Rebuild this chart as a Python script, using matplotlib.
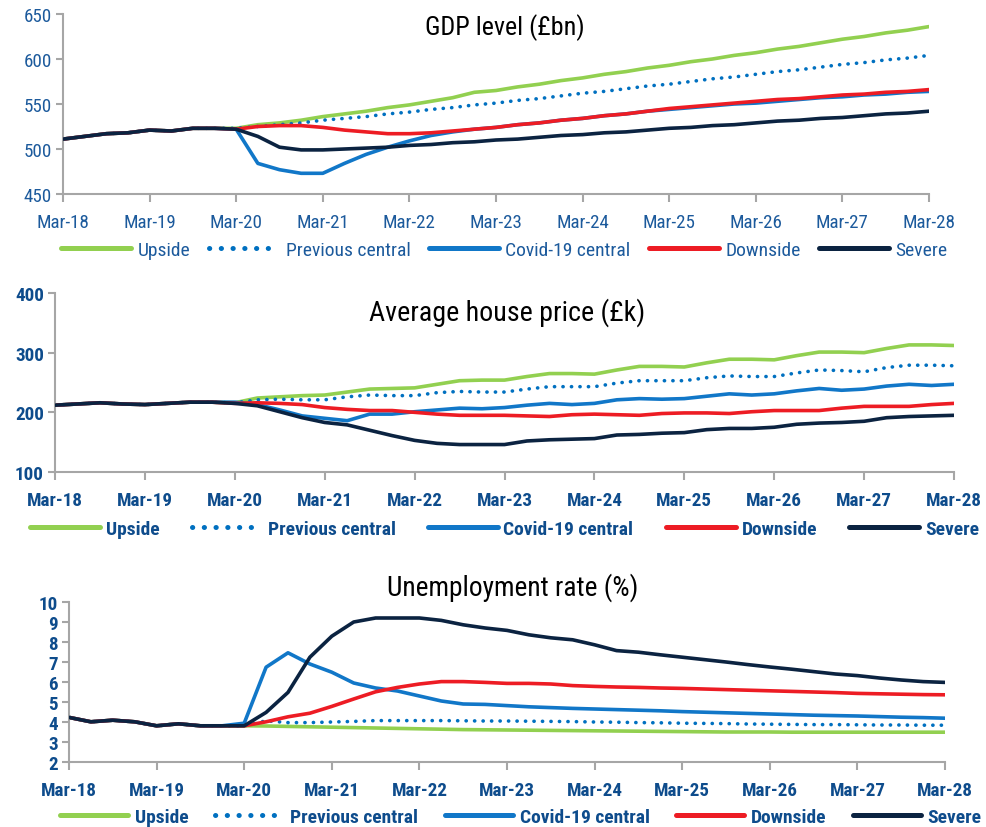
import numpy as np
import matplotlib
matplotlib.use("Agg")
import matplotlib.pyplot as plt
from matplotlib import font_manager as fm

# Prefer a narrow sans face for the labels when one is installed
_available = {f.name for f in fm.fontManager.ttflist}
_narrow = [n for n in ["Liberation Sans Narrow", "DejaVu Sans Condensed",
                       "Roboto Condensed", "Open Sans Condensed",
                       "Noto Sans Condensed", "Arial Narrow"] if n in _available]
_condensed_dejavu = any(f.name == "DejaVu Sans" and "ondensed" in f.fname
                        for f in fm.fontManager.ttflist)
if _narrow:
    plt.rcParams['font.family'] = [_narrow[0], 'DejaVu Sans']
    size_scale = 1.0
elif _condensed_dejavu:
    plt.rcParams['font.family'] = ['DejaVu Sans']
    plt.rcParams['font.stretch'] = 'condensed'
    size_scale = 0.85
else:
    plt.rcParams['font.family'] = ['Liberation Sans', 'DejaVu Sans']
    size_scale = 0.89

# Quarterly timeline, Mar-18 .. Mar-28
quarters = np.arange(41)
year_labels = ["Mar-18", "Mar-19", "Mar-20", "Mar-21", "Mar-22", "Mar-23",
               "Mar-24", "Mar-25", "Mar-26", "Mar-27", "Mar-28"]
series_names = ["Upside", "Previous central", "Covid-19 central", "Downside", "Severe"]

# GDP level (£bn): outturn Mar-18..Dec-19, then scenarios from Mar-20
gdp_hist = [511, 514, 517, 518, 521, 520, 523, 523]
gdp_upside = [523, 527, 529, 532, 536, 539, 542, 546, 549, 553, 557, 563, 565,
              569, 572, 576, 579, 583, 586, 590, 593, 597, 600, 604, 607, 611,
              614, 618, 622, 625, 629, 632, 636]
gdp_prev = [523, 525, 527, 529, 532, 534, 536, 539, 541, 544, 546, 549, 551,
            554, 556, 559, 562, 564, 567, 570, 572, 575, 578, 580, 583, 586,
            588, 591, 594, 596, 599, 601, 604]
gdp_covid = [522, 484, 477, 473, 473, 484, 494, 502, 509, 515, 519, 522, 524,
             527, 529, 532, 534, 537, 539, 542, 544, 546, 548, 550, 551, 553,
             555, 557, 558, 560, 561, 563, 564]
gdp_down = [522, 525, 526, 526, 524, 521, 519, 517, 517, 518, 520, 522, 524,
            527, 529, 532, 534, 537, 539, 542, 545, 547, 549, 551, 553, 555,
            556, 558, 560, 561, 563, 564, 566]
gdp_severe = [522, 514, 502, 499, 499, 500, 501, 502, 504, 505, 507, 508, 510,
              511, 513, 515, 516, 518, 519, 521, 523, 524, 526, 527, 529, 531,
              532, 534, 535, 537, 539, 540, 542]

# Average house price (£k)
hpi_hist = [212, 214, 216, 214, 213, 215, 217, 217]
hpi_upside = [216, 224, 226, 228, 229, 234, 239, 240, 241, 247, 253, 254, 254,
              260, 265, 265, 264, 271, 277, 277, 276, 283, 289, 289, 288, 295,
              301, 301, 300, 307, 313, 313, 312]
hpi_prev = [216, 221, 222, 221, 221, 226, 229, 228, 228, 233, 235, 234, 234,
            239, 243, 243, 243, 249, 253, 253, 253, 258, 261, 260, 260, 266,
            271, 270, 268, 275, 279, 279, 278]
hpi_covid = [217, 213, 204, 194, 190, 186, 197, 197, 201, 204, 207, 206, 208,
             212, 215, 213, 215, 221, 223, 222, 223, 227, 231, 229, 231, 236,
             240, 237, 239, 244, 247, 245, 247]
hpi_down = [215, 216, 215, 213, 208, 205, 203, 203, 200, 197, 195, 195, 195,
            194, 193, 196, 197, 196, 195, 198, 199, 199, 198, 201, 203, 203,
            203, 207, 210, 210, 210, 213, 215]
hpi_severe = [215, 211, 201, 191, 183, 179, 170, 161, 153, 148, 146, 146, 146,
              152, 154, 155, 156, 162, 163, 165, 166, 171, 173, 173, 175, 180,
              182, 183, 185, 191, 193, 194, 195]

# Unemployment rate (%)
unemp_hist = [4.23, 4.01, 4.09, 4.01, 3.81, 3.91, 3.81, 3.81]
unemp_upside = [3.81, 3.80, 3.78, 3.76, 3.74, 3.72, 3.70, 3.68, 3.66, 3.64, 3.62,
                3.61, 3.60, 3.59, 3.58, 3.57, 3.56, 3.55, 3.54, 3.53, 3.52, 3.51,
                3.50, 3.50, 3.50, 3.49, 3.49, 3.49, 3.49, 3.49, 3.49, 3.49, 3.49]
unemp_prev = [3.81, 4.06, 3.97, 3.97, 4.00, 4.03, 4.07, 4.07, 4.07, 4.07, 4.06,
              4.05, 4.05, 4.04, 4.03, 4.02, 4.00, 3.99, 3.97, 3.96, 3.94, 3.93,
              3.92, 3.90, 3.89, 3.88, 3.87, 3.87, 3.86, 3.85, 3.85, 3.84, 3.84]
unemp_covid = [3.94, 6.74, 7.46, 6.90, 6.49, 5.95, 5.70, 5.55, 5.30, 5.05, 4.90,
               4.88, 4.82, 4.76, 4.72, 4.68, 4.65, 4.62, 4.59, 4.56, 4.52, 4.49,
               4.46, 4.43, 4.40, 4.37, 4.34, 4.32, 4.30, 4.27, 4.24, 4.22, 4.19]
unemp_down = [3.81, 4.01, 4.26, 4.44, 4.78, 5.15, 5.51, 5.73, 5.90, 6.02, 6.02,
              5.98, 5.93, 5.93, 5.90, 5.82, 5.78, 5.75, 5.73, 5.70, 5.68, 5.65,
              5.62, 5.59, 5.56, 5.53, 5.50, 5.47, 5.43, 5.41, 5.39, 5.37, 5.36]
unemp_severe = [3.81, 4.48, 5.48, 7.24, 8.29, 9.00, 9.20, 9.20, 9.20, 9.08, 8.86,
                8.70, 8.58, 8.36, 8.21, 8.11, 7.86, 7.57, 7.49, 7.36, 7.24, 7.12,
                7.00, 6.87, 6.75, 6.64, 6.52, 6.40, 6.32, 6.20, 6.10, 6.02, 5.98]

colors = ["#92D050", "#0070C0", "#1177C8", "#ED1C24", "#0B2341"]
spine_color = "#A6A6A6"

tick_fs = 13.7 * size_scale
leg_fs = 14.0 * size_scale

panels = [
    dict(title="GDP level (£bn)", hist=gdp_hist,
         series=[gdp_upside, gdp_prev, gdp_covid, gdp_down, gdp_severe],
         ylim=(450, 650), yticks=[450, 500, 550, 600, 650],
         rect=[63/986, 1-195/828, 866/986, 180/828],
         title_pos=(0.51, 0.93), title_fs=18.8, leg=(0.51, -0.311, 3.6, 0.33, 0.95),
         weight="normal", label_color="#1C5A9C"),
    dict(title="Average house price (£k)", hist=hpi_hist,
         series=[hpi_upside, hpi_prev, hpi_covid, hpi_down, hpi_severe],
         ylim=(100, 400), yticks=[100, 200, 300, 400],
         rect=[55/986, 1-473/828, 899/986, 179/828],
         title_pos=(0.503, 0.895), title_fs=20.2, leg=(0.5, -0.318, 3.6, 0.3, 1.65),
         weight="bold", label_color="#0E4C8C"),
    dict(title="Unemployment rate (%)", hist=unemp_hist,
         series=[unemp_upside, unemp_prev, unemp_covid, unemp_down, unemp_severe],
         ylim=(2, 10), yticks=list(range(2, 11)),
         rect=[69/986, 1-763/828, 876/986, 160/828],
         title_pos=(0.506, 1.094), title_fs=19.7, leg=(0.516, -0.344, 3.5, 0.36, 1.35),
         weight="bold", label_color="#0E4C8C"),
]

fig = plt.figure(figsize=(9.86, 8.28), dpi=100)

for p in panels:
    ax = fig.add_axes(p["rect"])
    handles = []
    for name, vals, col in zip(series_names, p["series"], colors):
        y = np.array(p["hist"] + vals, dtype=float)
        if name == "Previous central":
            ln, = ax.plot(quarters, y, color=col, lw=2.6, linestyle=(0, (0.05, 2.3)),
                          dash_capstyle="round", label=name, zorder=2)
        else:
            ln, = ax.plot(quarters, y, color=col, lw=2.6, solid_capstyle="round",
                          label=name, zorder=3 if name == "Severe" else 2)
        handles.append(ln)

    ax.set_xlim(0, 40)
    ax.set_ylim(*p["ylim"])
    ax.set_yticks(p["yticks"])
    ax.set_xticks(np.arange(0, 41, 4))
    ax.set_xticklabels(year_labels)
    for s in ["top", "right"]:
        ax.spines[s].set_visible(False)
    for s in ["left", "bottom"]:
        ax.spines[s].set_color(spine_color)
        ax.spines[s].set_linewidth(1.5)
    ax.tick_params(axis="x", colors=spine_color, length=6, width=1.5,
                   labelcolor=p["label_color"], labelsize=tick_fs, pad=8)
    ax.tick_params(axis="y", colors=spine_color, length=5, width=1.5,
                   labelcolor=p["label_color"], labelsize=tick_fs, pad=3)
    for lbl in ax.get_xticklabels() + ax.get_yticklabels():
        lbl.set_fontweight(p["weight"])
    ax.patch.set_alpha(0)

    tx, ty = p["title_pos"]
    ax.text(tx, ty, p["title"], transform=ax.transAxes, ha="center",
            va="center", fontsize=p["title_fs"] * size_scale, color="black")

    lx, ly, hlen, hpad, csp = p["leg"]
    leg = ax.legend(handles=handles, loc="center", bbox_to_anchor=(lx, ly),
                    ncol=5, frameon=False, handlelength=hlen,
                    handletextpad=hpad, columnspacing=csp, borderaxespad=0,
                    prop=dict(size=leg_fs, weight=p["weight"]))
    for t in leg.get_texts():
        t.set_color(p["label_color"])
    for h in leg.get_lines():
        h.set_linewidth(3.6)

fig.savefig("out.png", dpi=100)
